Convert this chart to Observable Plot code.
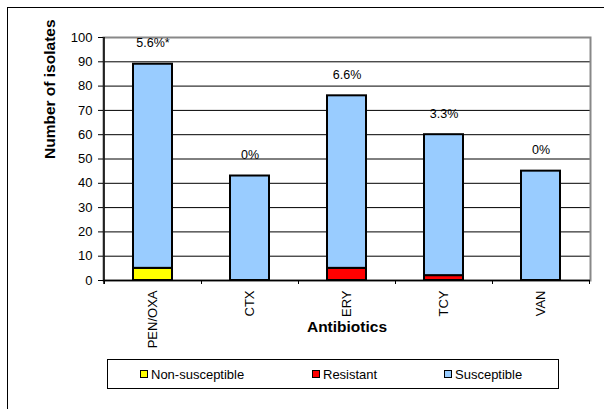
<!DOCTYPE html>
<html>
<head>
<meta charset="utf-8">
<script src="https://cdn.jsdelivr.net/npm/d3@7"></script>
<script src="https://cdn.jsdelivr.net/npm/@observablehq/plot@0.6"></script>
<style>
  html, body { margin: 0; padding: 0; background: #fff; overflow: hidden; }
  #chart { position: relative; width: 604px; height: 409px; overflow: hidden;
           font-family: "Liberation Sans", Arial, sans-serif; }
  #outer { position: absolute; left: 7px; top: 7px; width: 700px; height: 500px; border: 1px solid #000; }
  #chart svg { position: absolute; left: 0; top: 0; }
  #legend { position: absolute; left: 107px; top: 359px; width: 450px; height: 28px;
            border: 1px solid #000; background: #fff; }
  .item { position: absolute; top: 0; height: 28px; display: flex; align-items: center;
          font-size: 13px; color: #000; white-space: nowrap; }
  .sw { width: 6px; height: 6px; border: 1.5px solid #000; margin-right: 3px; }
</style>
</head>
<body>
<div id="chart"><div id="outer"></div></div>
<script>
// Isolates per antibiotic, split by susceptibility category
const antibiotics   = ["PEN/OXA", "CTX", "ERY", "TCY", "VAN"];
const nonSusceptible = [5, 0, 0, 0, 0];
const resistant      = [0, 0, 5, 2, 0];
const susceptible    = [84, 43, 71, 58, 45];
const percentLabels  = ["5.6%*", "0%", "6.6%", "3.3%", "0%"];

const categories = ["Non-susceptible", "Resistant", "Susceptible"];
const colors     = ["#FFFF00", "#FF0000", "#99CCFF"];
const yTicks     = [0, 10, 20, 30, 40, 50, 60, 70, 80, 90, 100];
const gridValues = [10, 20, 30, 40, 50, 60, 70, 80, 90];
const xTitle = "Antibiotics";
const yTitle = "Number of isolates";

// Long table for stacking (zero-height segments are left out)
const rows = [];
antibiotics.forEach((a, i) => {
  [nonSusceptible[i], resistant[i], susceptible[i]].forEach((v, k) => {
    if (v > 0) rows.push({antibiotic: a, status: categories[k], count: v});
  });
});
const totals = antibiotics.map((a, i) => ({
  antibiotic: a,
  total: nonSusceptible[i] + resistant[i] + susceptible[i],
  label: percentLabels[i]
}));

const font = '"Liberation Sans", Arial, sans-serif';

const plot = Plot.plot({
  width: 604,
  height: 409,
  marginTop: 37,
  marginLeft: 103,
  marginRight: 14,
  marginBottom: 129,
  style: {fontFamily: font, fontSize: "13px", color: "#000", background: "transparent"},
  x: {type: "band", domain: antibiotics, padding: 0, label: null},
  y: {domain: [0, 100], label: null},
  color: {domain: categories, range: colors},
  marks: [
    Plot.ruleY(gridValues, {stroke: "#000", strokeWidth: 1}),
    Plot.frame({stroke: "#888", strokeWidth: 2}),
    Plot.barY(rows, {
      x: "antibiotic", y: "count", fill: "status",
      stroke: "#000", strokeWidth: 2, insetLeft: 29, insetRight: 29
    }),
    Plot.ruleY([0], {stroke: "#000", strokeWidth: 1.5}),
    Plot.text(totals, {
      x: "antibiotic", y: "total", text: "label", dy: -21,
      fontSize: 12.5, fill: "#000"
    }),
    Plot.axisY({ticks: yTicks, tickSize: 5, tickPadding: 6, tickFormat: d => d, label: null,
                fontSize: 13, stroke: "#000"}),
    Plot.axisX({tickSize: 0, tickPadding: 10, tickRotate: -90, label: null, fontSize: 13}),
    Plot.text([xTitle], {frameAnchor: "bottom", dy: 51, fontWeight: "bold", fontSize: 15.5, fill: "#000"}),
    Plot.text([yTitle], {frameAnchor: "left", dx: -53, rotate: -90, fontWeight: "bold", fontSize: 15.5, fill: "#000"})
  ]
});

// Left axis line and the category boundary ticks under the baseline
const xs = plot.scale("x");
const ys = plot.scale("y");
const svg = d3.select(plot);
const y0 = ys.apply(0), y100 = ys.apply(100);
const left = xs.apply(antibiotics[0]);
const bounds = antibiotics.map(a => xs.apply(a)).concat([xs.apply(antibiotics[antibiotics.length - 1]) + xs.step]);
const g = svg.append("g").attr("stroke", "#000");
g.append("line").attr("x1", left).attr("x2", left).attr("y1", y100).attr("y2", y0 + 4).attr("stroke-width", 1.5);
g.selectAll("line.b").data(bounds).join("line").attr("class", "b")
  .attr("x1", d => Math.round(d) + 0.5).attr("x2", d => Math.round(d) + 0.5)
  .attr("y1", y0).attr("y2", y0 + 4).attr("stroke-width", 1);

const chart = document.getElementById("chart");
chart.appendChild(plot);

// Legend box below the chart
const legend = document.createElement("div");
legend.id = "legend";
const itemLeft = [32, 204, 336];
categories.forEach((c, i) => {
  const it = document.createElement("div");
  it.className = "item";
  it.style.left = itemLeft[i] + "px";
  const sw = document.createElement("div");
  sw.className = "sw";
  sw.style.background = colors[i];
  it.appendChild(sw);
  it.appendChild(document.createTextNode(c));
  legend.appendChild(it);
});
chart.appendChild(legend);
</script>
</body>
</html>
